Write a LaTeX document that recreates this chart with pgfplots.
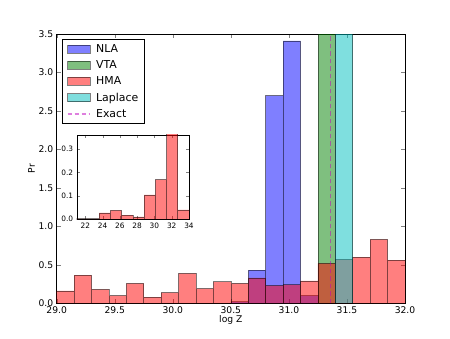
\documentclass[border=0pt]{standalone}
\usepackage{fontspec}
\setmainfont{DejaVu Sans}
\usepackage{pgfplots}
\pgfplotsset{compat=1.18}

\definecolor{mplb}{rgb}{0,0,1}
\definecolor{mplg}{rgb}{0,0.5,0}
\definecolor{mplr}{rgb}{1,0,0}
\definecolor{mplc}{rgb}{0,0.75,0.75}
\definecolor{mplm}{rgb}{0.75,0,0.75}

\pgfplotsset{
  histbar/.style={ybar interval, fill=#1, fill opacity=0.5, draw=black, draw opacity=0.5, line width=0.7pt},
  patchlegend/.style={legend image code/.code={
    \draw[fill=#1, fill opacity=0.5, draw=black, draw opacity=0.5] (0pt,-4pt) rectangle (22.7pt,4pt);}},
}

\begin{document}
\begin{tikzpicture}[font=\fontsize{9.2}{11}\selectfont]
\useasboundingbox (-56.7pt,-34.7pt) rectangle (393.3pt,303.3pt);
\begin{axis}[
  scale only axis,
  width=348.3pt, height=269.3pt,
  xmin=29, xmax=32, ymin=0, ymax=3.5,
  xtick={29,29.5,30,30.5,31,31.5,32},
  ytick={0,0.5,1,1.5,2,2.5,3,3.5},
  xticklabel style={/pgf/number format/.cd, fixed, fixed zerofill, precision=1},
  yticklabel style={/pgf/number format/.cd, fixed, fixed zerofill, precision=1},
  /pgf/number format/assume math mode=true,
  tick align=inside,
  major tick length=4pt,
  xlabel={log Z}, ylabel={Pr},
  xlabel style={at={(axis description cs:0.5,-0.062)}, anchor=center},
  ylabel style={at={(axis description cs:-0.072,0.5)}, anchor=center},
  legend cell align=left,
  legend style={at={(0.0155,0.98)}, anchor=north west, draw=black, line width=0.5pt,
                font=\fontsize{10.9}{12}\selectfont,
                inner xsep=4.5pt, inner ysep=2.5pt, row sep=2.8pt,
                /tikz/every odd column/.append style={column sep=3pt}},
  clip=true,
]
% NLA
\addplot[histbar=mplb, patchlegend=mplb] coordinates {
  (30.5,0.02)(30.65,0.43)(30.8,2.70)(30.95,3.41)(31.1,0.10)(31.25,0)};
\addlegendentry{NLA}
% VTA
\addplot[histbar=mplg, patchlegend=mplg] coordinates {
  (31.25,10)(31.4,0)};
\addlegendentry{VTA}
% HMA
\addplot[histbar=mplr, patchlegend=mplr] coordinates {
  (29.0,0.16)(29.15,0.366)(29.3,0.18)(29.45,0.10)(29.6,0.26)
  (29.75,0.08)(29.9,0.14)(30.05,0.39)(30.2,0.19)(30.35,0.28)
  (30.5,0.26)(30.65,0.33)(30.8,0.23)(30.95,0.24)(31.1,0.29)
  (31.25,0.52)(31.4,0.57)(31.55,0.60)(31.7,0.83)(31.85,0.56)(32.0,0)};
\addlegendentry{HMA}
% Laplace
\addplot[histbar=mplc, patchlegend=mplc] coordinates {
  (31.4,10)(31.55,0)};
\addlegendentry{Laplace}
% Exact
\addplot[mplm, opacity=0.5, line width=1.6pt, dash pattern=on 4.5pt off 3pt,
  legend image code/.code={\draw[mplm, opacity=0.5, line width=1.6pt, dash pattern=on 4pt off 3pt] (0pt,0pt) -- (22.7pt,0pt);}]
  coordinates {(31.36,0)(31.36,3.5)};
\addlegendentry{Exact}
\end{axis}

\begin{axis}[
  at={(20pt,84.3pt)}, anchor=south west,
  scale only axis,
  width=112.3pt, height=84pt,
  xmin=21, xmax=34, ymin=0, ymax=0.36,
  xtick={22,24,26,28,30,32,34},
  ytick={0,0.1,0.2,0.3},
  yticklabel style={/pgf/number format/.cd, fixed, fixed zerofill, precision=1},
  /pgf/number format/assume math mode=true,
  tick align=inside,
  major tick length=3pt,
  tick label style={font=\fontsize{7.4}{8.5}\selectfont},
  axis background/.style={fill=white},
  clip=true,
]
\addplot[histbar=mplr] coordinates {
  (21.0,0.001)(22.3,0.001)(23.6,0.026)(24.9,0.037)(26.2,0.017)
  (27.5,0.009)(28.8,0.103)(30.1,0.169)(31.4,0.5)(32.7,0.039)(34.0,0)};
\end{axis}
\end{tikzpicture}
\end{document}
